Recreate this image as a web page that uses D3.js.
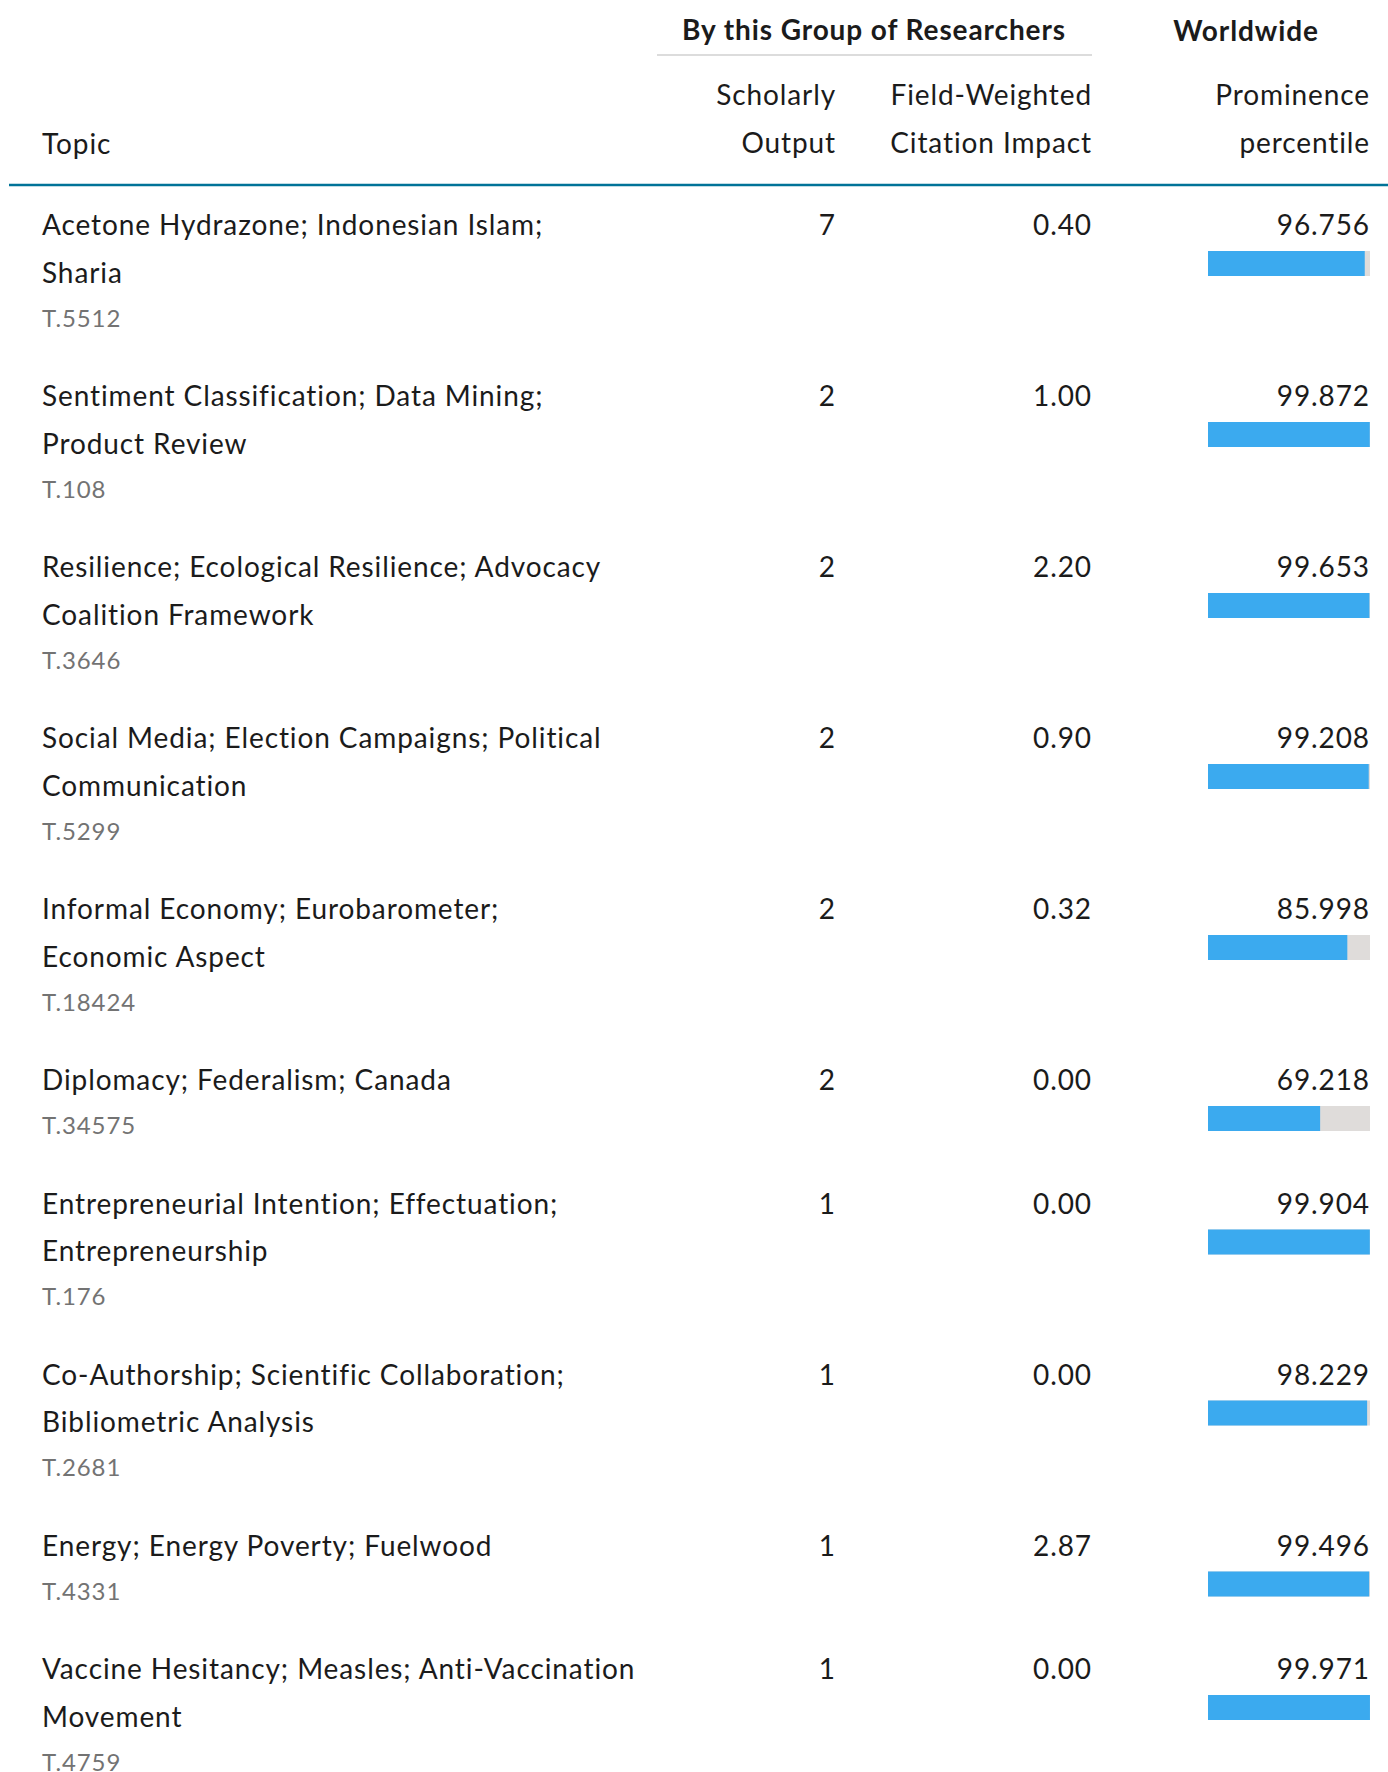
<!DOCTYPE html>
<html>
<head>
<meta charset="utf-8">
<script src="https://cdn.jsdelivr.net/npm/d3@7/dist/d3.min.js"></script>
<style>
  body { margin: 0; background: #fff; }
</style>
</head>
<body>
<div id="chart"></div>
<script>
var topicLines = [
  ["Acetone Hydrazone; Indonesian Islam;", "Sharia"],
  ["Sentiment Classification; Data Mining;", "Product Review"],
  ["Resilience; Ecological Resilience; Advocacy", "Coalition Framework"],
  ["Social Media; Election Campaigns; Political", "Communication"],
  ["Informal Economy; Eurobarometer;", "Economic Aspect"],
  ["Diplomacy; Federalism; Canada"],
  ["Entrepreneurial Intention; Effectuation;", "Entrepreneurship"],
  ["Co-Authorship; Scientific Collaboration;", "Bibliometric Analysis"],
  ["Energy; Energy Poverty; Fuelwood"],
  ["Vaccine Hesitancy; Measles; Anti-Vaccination", "Movement"]
];
var topicCodes = ["T.5512", "T.108", "T.3646", "T.5299", "T.18424", "T.34575", "T.176", "T.2681", "T.4331", "T.4759"];
var scholarlyOutput = [7, 2, 2, 2, 2, 2, 1, 1, 1, 1];
var fwci = [0.40, 1.00, 2.20, 0.90, 0.32, 0.00, 0.00, 0.00, 2.87, 0.00];
var prominence = [96.756, 99.872, 99.653, 99.208, 85.998, 69.218, 99.904, 98.229, 99.496, 99.971];

var w = 1388;
var h = 1772;
var font = "Lato, 'Noto Sans', sans-serif";
var fs = 28;
var lineH = 47.5;
var ls = "0.9px";

var colTopic = 42;
var colOutput = 836;
var colFwci = 1092;
var colProm = 1370;

var svg = d3.select("#chart")
  .append("svg")
  .attr("width", w)
  .attr("height", h)
  .style("font-family", font)
  .style("letter-spacing", ls);

// header
function headText(x, y, t, anchor, weight) {
  svg.append("text")
    .attr("x", x)
    .attr("y", y)
    .attr("text-anchor", anchor)
    .attr("font-size", fs)
    .attr("font-weight", weight || "normal")
    .attr("fill", "#1b1b1b")
    .text(t);
}
headText(874, 40, "By this Group of Researchers", "middle", "bold");
headText(1246, 41, "Worldwide", "middle", "bold");
svg.append("line")
  .attr("x1", 657).attr("x2", 1092)
  .attr("y1", 55).attr("y2", 55)
  .attr("stroke", "#dcdcdc")
  .attr("stroke-width", 2);

headText(colOutput, 105, "Scholarly", "end");
headText(colOutput, 153, "Output", "end");
headText(colFwci, 105, "Field-Weighted", "end");
headText(colFwci, 153, "Citation Impact", "end");
headText(colProm, 105, "Prominence", "end");
headText(colProm, 153, "percentile", "end");
headText(colTopic, 154, "Topic", "start");

svg.append("line")
  .attr("x1", 9).attr("x2", w)
  .attr("y1", 185).attr("y2", 185)
  .attr("stroke", "#007398")
  .attr("stroke-width", 2.5);

// row positions from number of title lines
var rows = [];
var y0 = 235;
topicLines.forEach(function(lines, i) {
  rows.push({
    lines: lines,
    code: topicCodes[i],
    output: scholarlyOutput[i],
    fwci: fwci[i],
    prom: prominence[i],
    y: y0
  });
  y0 += lines.length * lineH + 76;
});

var x = d3.scaleLinear()
  .domain([0, 100])
  .range([1208, 1370]);

var g = svg.selectAll("g.row")
  .data(rows)
  .enter()
  .append("g")
  .attr("class", "row")
  .attr("transform", function(d) { return "translate(0," + d.y + ")"; });

g.each(function(d) {
  var row = d3.select(this);
  d.lines.forEach(function(t, j) {
    row.append("text")
      .attr("x", colTopic)
      .attr("y", j * lineH)
      .attr("font-size", fs)
      .attr("fill", "#1b1b1b")
      .text(t);
  });
  row.append("text")
    .attr("x", colTopic)
    .attr("y", (d.lines.length - 1) * lineH + 44)
    .attr("font-size", 24)
    .attr("fill", "#737373")
    .text(d.code);
});

g.append("text")
  .attr("x", colOutput)
  .attr("text-anchor", "end")
  .attr("font-size", fs)
  .attr("fill", "#1b1b1b")
  .text(function(d) { return d.output; });

g.append("text")
  .attr("x", colFwci)
  .attr("text-anchor", "end")
  .attr("font-size", fs)
  .attr("fill", "#1b1b1b")
  .text(function(d) { return d.fwci.toFixed(2); });

g.append("text")
  .attr("x", colProm)
  .attr("text-anchor", "end")
  .attr("font-size", fs)
  .attr("fill", "#1b1b1b")
  .text(function(d) { return d.prom.toFixed(3); });

g.append("rect")
  .attr("x", x(0))
  .attr("y", 16)
  .attr("width", x(100) - x(0))
  .attr("height", 25)
  .attr("fill", "#dfdcda");

g.append("rect")
  .attr("x", x(0))
  .attr("y", 16)
  .attr("width", function(d) { return x(d.prom) - x(0); })
  .attr("height", 25)
  .attr("fill", "#3baaef");
</script>
</body>
</html>
